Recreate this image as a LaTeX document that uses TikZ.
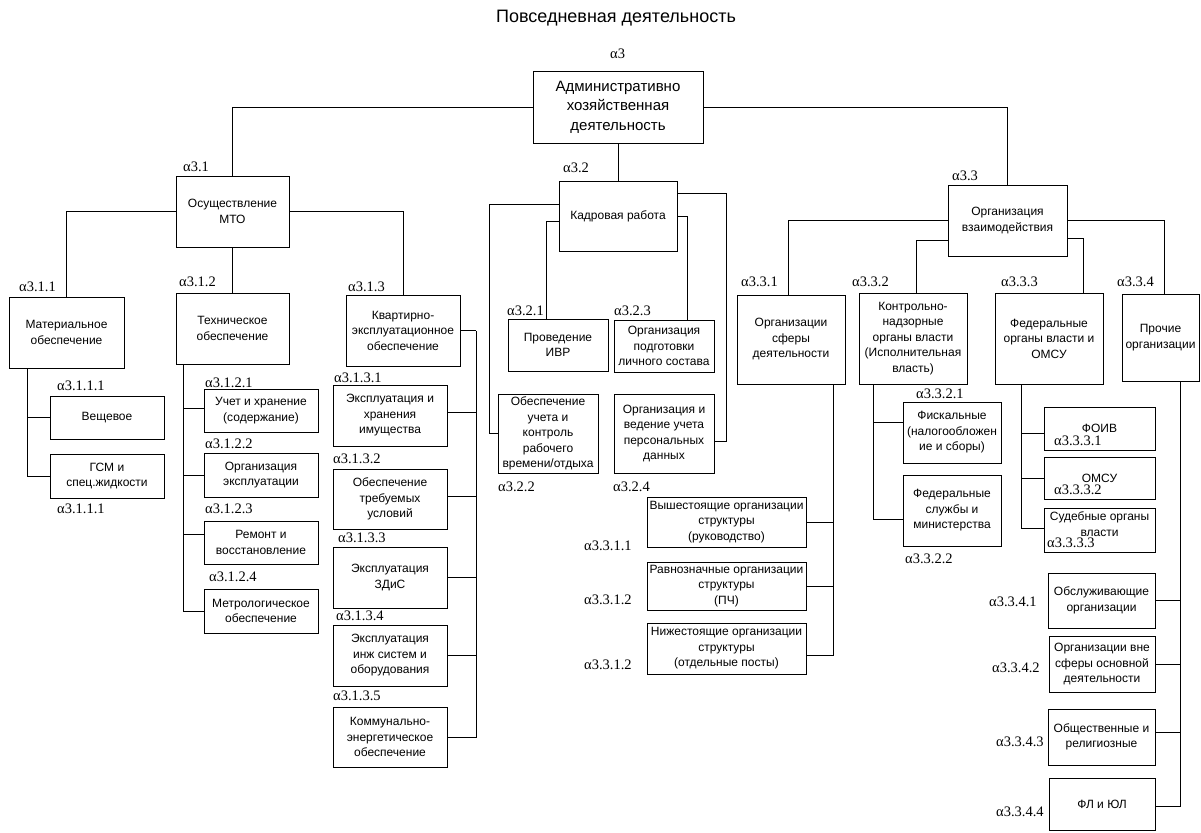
\documentclass[tikz,border=0pt]{standalone}
\usepackage{fontspec}
\setmainfont{Liberation Sans}
\newfontfamily\serifalpha{Liberation Serif}
\usetikzlibrary{calc}
\newcommand\boxfont{\fontsize{12}{15.5}\selectfont}
\newcommand\admfont{\fontsize{15}{19.5}\selectfont}
\newcommand\labfont{\serifalpha\fontsize{14.5}{16}\selectfont}
% box: [options], name, x1, y1, x2, y2, text
\newcommand\mkbox[7][]{%
  \pgfmathsetmacro\bw{#5-#3}%
  \pgfmathsetmacro\bh{#6-#4}%
  \node[box,minimum width=\bw pt,minimum height=\bh pt,#1] (#2) at ({(#3+#5)/2},{(#4+#6)/2}) {#7};}
% index label: name, x, y, index
\newcommand\lab[4]{\node[alab] (#1) at (#2,#3) {α#4};}
\tikzset{
  box/.style={draw, line width=0.8pt, fill=white, align=center, inner sep=1pt, outer sep=0pt, font=\boxfont},
  alab/.style={anchor=west, inner sep=0pt, font=\labfont},
  wire/.style={draw, line width=0.8pt}
}
\begin{document}
\begin{tikzpicture}[x=1pt,y=-1pt]
\useasboundingbox (0,0) rectangle (1201,832);

\node[font=\fontsize{18}{20}\selectfont] (title) at (616,18) {Повседневная деятельность};

% top level
\mkbox[font=\admfont]{adm}{533}{71}{703}{143}{Административно\\хозяйственная\\деятельность}
\mkbox{mto}{176}{176}{289}{247}{Осуществление\\МТО}
\mkbox{kadr}{559}{181}{677}{251}{Кадровая работа}
\mkbox{ov}{948}{185}{1067}{256}{Организация\\взаимодействия}

% material-technical support
\mkbox{mat}{9}{297}{124}{368}{Материальное\\обеспечение}
\mkbox{tech}{176}{293}{289}{364}{Техническое\\обеспечение}
\mkbox{kv}{346}{295}{460}{366}{Квартирно-\\эксплуатационное\\обеспечение}
\mkbox{vesh}{50}{396}{164}{439}{Вещевое}
\mkbox{gsm}{50}{454}{164}{498}{ГСМ и\\спец.жидкости}
\mkbox{t1}{204}{389}{318}{432}{Учет и хранение\\(содержание)}
\mkbox{t2}{204}{453}{318}{497}{Организация\\эксплуатации}
\mkbox{t3}{204}{521}{318}{564}{Ремонт и\\восстановление}
\mkbox{t4}{204}{589}{318}{633}{Метрологическое\\обеспечение}
\mkbox{k1}{333}{385}{447}{446}{Эксплуатация и\\хранения\\имущества}
\mkbox{k2}{333}{469}{447}{529}{Обеспечение\\требуемых\\условий}
\mkbox{k3}{333}{547}{447}{608}{Эксплуатация\\ЗДиС}
\mkbox{k4}{333}{625}{447}{686}{Эксплуатация\\инж систем и\\оборудования}
\mkbox{k5}{333}{707}{447}{767}{Коммунально-\\энергетическое\\обеспечение}

% personnel
\mkbox{p1}{508}{319}{608}{371}{Проведение\\ИВР}
\mkbox{p3}{614}{320}{714}{372}{Организация\\подготовки\\личного состава}
\mkbox{p2}{498}{394}{598}{473}{Обеспечение\\учета и\\контроль\\рабочего\\времени/отдыха}
\mkbox{p4}{614}{394}{714}{473}{Организация и\\ведение учета\\персональных\\данных}

% interaction
\mkbox{o1}{737}{295}{845}{384}{Организации\\сферы\\деятельности}
\mkbox{o2}{859}{293}{967}{384}{Контрольно-\\надзорные\\органы власти\\(Исполнительная\\власть)}
\mkbox{o3}{995}{293}{1103}{384}{Федеральные\\органы власти и\\ОМСУ}
\mkbox{o4}{1122}{294}{1199}{381}{Прочие\\организации}
\mkbox{o11}{647}{497}{806}{547}{Вышестоящие организации\\структуры\\(руководство)}
\mkbox{o12}{647}{562}{806}{610}{Равнозначные организации\\структуры\\(ПЧ)}
\mkbox{o13}{647}{623}{806}{674}{Нижестоящие организации\\структуры\\(отдельные посты)}
\mkbox{o21}{903}{402}{1001}{463}{Фискальные\\(налогообложен\\ие и сборы)}
\mkbox{o22}{903}{475}{1001}{546}{Федеральные\\службы и\\министерства}
\mkbox{o31}{1044}{407}{1155}{450}{ФОИВ}
\mkbox{o32}{1044}{457}{1155}{499}{ОМСУ}
\mkbox{o33}{1044}{508}{1155}{552}{}
\node[align=center, inner sep=0pt, font=\boxfont] (o33t) at ($(o33.center)+(0,-6)$) {Судебные органы\\власти};
\mkbox{o41}{1048}{573}{1155}{628}{Обслуживающие\\организации}
\mkbox{o42}{1049}{636}{1155}{692}{Организации вне\\сферы основной\\деятельности}
\mkbox{o43}{1048}{709}{1155}{765}{Общественные и\\религиозные}
\mkbox{o44}{1049}{778}{1155}{830}{ФЛ и ЮЛ}

% index labels
\lab{l3}{610}{54}{3}
\lab{l31}{183}{167}{3.1}
\lab{l32}{563}{168}{3.2}
\lab{l33}{952}{176}{3.3}
\lab{l311}{19}{287}{3.1.1}
\lab{l312}{179}{282}{3.1.2}
\lab{l313}{348}{287}{3.1.3}
\lab{l3111a}{57}{386}{3.1.1.1}
\lab{l3111b}{57}{509}{3.1.1.1}
\lab{l3121}{205}{383}{3.1.2.1}
\lab{l3122}{205}{444}{3.1.2.2}
\lab{l3123}{205}{509}{3.1.2.3}
\lab{l3124}{209}{577}{3.1.2.4}
\lab{l3131}{334}{378}{3.1.3.1}
\lab{l3132}{333}{459}{3.1.3.2}
\lab{l3133}{338}{538}{3.1.3.3}
\lab{l3134}{336}{616}{3.1.3.4}
\lab{l3135}{333}{696}{3.1.3.5}
\lab{l321}{507}{311}{3.2.1}
\lab{l323}{614}{311}{3.2.3}
\lab{l322}{498}{487}{3.2.2}
\lab{l324}{613}{487}{3.2.4}
\lab{l331}{741}{282}{3.3.1}
\lab{l332}{852}{282}{3.3.2}
\lab{l333}{1001}{282}{3.3.3}
\lab{l334}{1117}{282}{3.3.4}
\lab{l3311}{584}{546}{3.3.1.1}
\lab{l3312a}{584}{600}{3.3.1.2}
\lab{l3312b}{584}{665}{3.3.1.2}
\lab{l3321}{916}{394}{3.3.2.1}
\lab{l3322}{905}{559}{3.3.2.2}
\lab{l3331}{1054}{441}{3.3.3.1}
\lab{l3332}{1054}{490}{3.3.3.2}
\lab{l3333}{1047}{543}{3.3.3.3}
\lab{l3341}{989}{602}{3.3.4.1}
\lab{l3342}{992}{668}{3.3.4.2}
\lab{l3343}{996}{742}{3.3.4.3}
\lab{l3344}{996}{812}{3.3.4.4}

% root branches
\draw[wire] (adm.west) -| (mto.north);
\draw[wire] (adm.east) -| (ov.north);
\draw[wire] (adm.south) -- (kadr.north);

% material-technical support branches
\draw[wire] (mto.west) -| (mat.north);
\draw[wire] (mto.south) -- (tech.north);
\draw[wire] (mto.east) -| (kv.north);
\coordinate (matbus) at ($(mat.south west)+(18,0)$);
\draw[wire] (vesh.west) -| (matbus);
\draw[wire] (gsm.west) -| (matbus);
\coordinate (techbus) at ($(tech.south west)+(7,0)$);
\draw[wire] ($(t1.west)+(0,-2)$) -| (techbus);
\draw[wire] (t2.west) -| (techbus);
\draw[wire] ($(t3.west)+(0,-8)$) -| (techbus);
\draw[wire] (t4.west) -| (techbus);
\coordinate (kvbus) at ($(kv.east)+(16,0)$);
\draw[wire] (kv.east) -- (kvbus);
\draw[wire] ($(k1.east)+(0,-3)$) -| (kvbus);
\draw[wire] ($(k2.east)+(0,-3)$) -| (kvbus);
\draw[wire] (k3.east) -| (kvbus);
\draw[wire] (k4.east) -| (kvbus);
\draw[wire] (k5.east) -| (kvbus);

% personnel branches
\draw[wire] ($(kadr.west)+(0,-12)$) -| ($(p2.west)+(-9,0)$) -- (p2.west);
\draw[wire] ($(kadr.west)+(0,5)$) -| ($(p1.north)+(-12,0)$);
\draw[wire] (kadr.east) -| ($(p3.north)+(23,0)$);
\draw[wire] ($(kadr.east)+(0,-23)$) -| ($(p4.east)+(12,7.5)$) -- ($(p4.east)+(0,7.5)$);

% interaction branches
\draw[wire] (ov.west) -| ($(o1.north)+(-3,0)$);
\draw[wire] ($(ov.west)+(0,20)$) -| ($(o2.north)+(3,0)$);
\draw[wire] (ov.east) -| ($(o4.north)+(4,0)$);
\draw[wire] ($(ov.east)+(0,18)$) -| ($(o3.north)+(34,0)$);
\coordinate (o1bus) at ($(o1.south)+(42,0)$);
\draw[wire] (o11.east) -| (o1bus);
\draw[wire] (o12.east) -| (o1bus);
\draw[wire] ($(o13.east)+(0,7)$) -| (o1bus);
\coordinate (o2bus) at ($(o2.south west)+(14,0)$);
\draw[wire] ($(o21.west)+(0,-10)$) -| (o2bus);
\draw[wire] ($(o22.west)+(0,9)$) -| (o2bus);
\coordinate (o3bus) at ($(o3.south west)+(26,0)$);
\draw[wire] ($(o31.west)+(0,5)$) -| (o3bus);
\draw[wire] (o32.west) -| (o3bus);
\draw[wire] ($(o33.west)+(0,-2)$) -| (o3bus);
\coordinate (o4bus) at ($(o4.south)+(20,0)$);
\draw[wire] (o41.east) -| (o4bus);
\draw[wire] (o42.east) -| (o4bus);
\draw[wire] ($(o43.east)+(0,-5)$) -| (o4bus);
\draw[wire] ($(o44.east)+(0,2)$) -| (o4bus);
\end{tikzpicture}
\end{document}
